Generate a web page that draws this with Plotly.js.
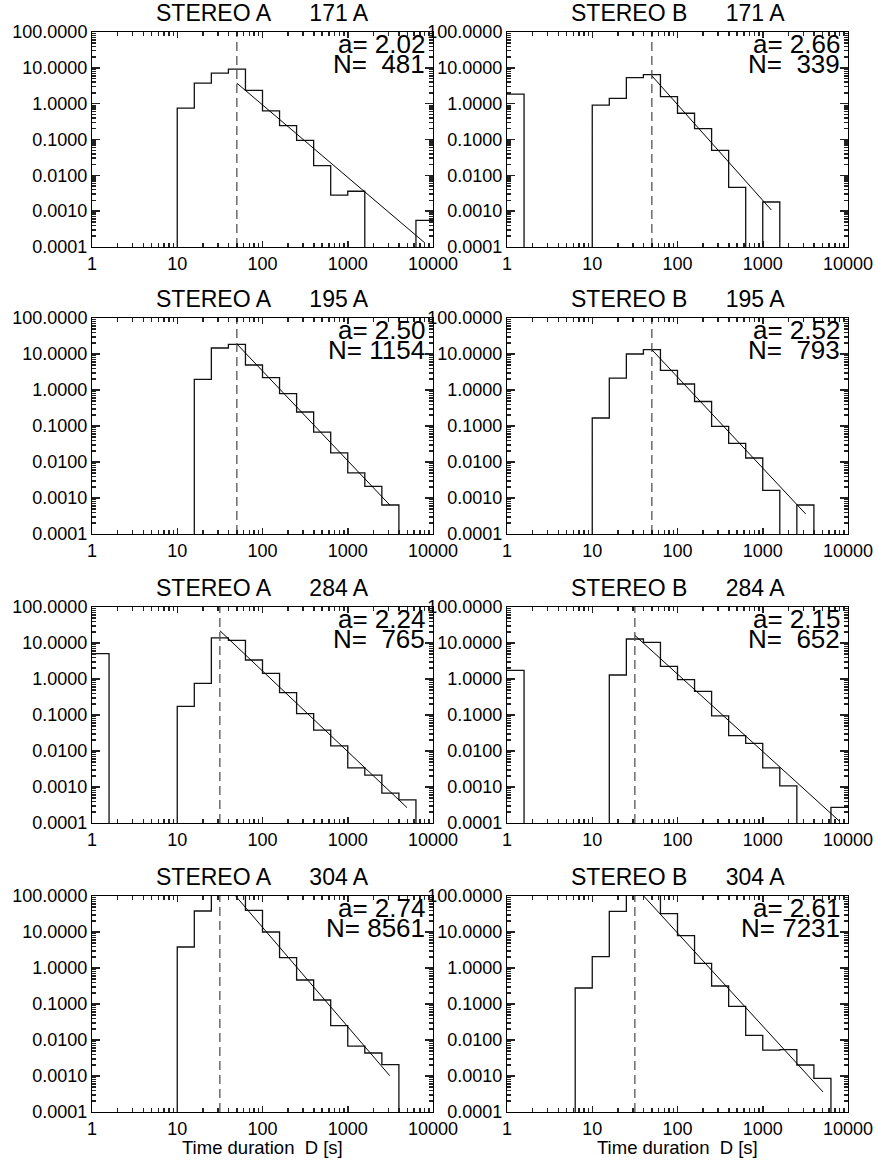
<!DOCTYPE html>
<html>
<head>
<meta charset="utf-8">
<script src="https://cdn.plot.ly/plotly-3.0.1.min.js"></script>
<style>
html,body{margin:0;padding:0;background:#fff;}
#chart{width:878px;height:1164px;}
</style>
</head>
<body>
<div id="chart"></div>
<script>
// ---------- data ----------
const binEdges = [1, 1.585, 2.512, 3.981, 6.31, 10, 15.85, 25.12, 39.81, 63.1, 100,
                  158.5, 251.2, 398.1, 631, 1000, 1585, 2512, 3981, 6310, 10000];

const countsA171 = [0,0,0,0,0, 0.75,3.75,7.1,9.2,2.34,0.63,0.245,0.095,0.0187,0.0028,0.0036,0,0,0,0.00055];
const countsB171 = [1.85,0,0,0,0, 0.91,1.4,5.3,6.5,1.58,0.54,0.2,0.05,0.0046,0,0.0018,0,0,0,0];
const countsA195 = [0,0,0,0,0, 0,1.98,14.7,18.6,4.95,2.2,0.79,0.245,0.068,0.018,0.005,0.0021,0.00064,0,0];
const countsB195 = [0,0,0,0,0, 0.167,2.15,10,13.2,3.5,1.47,0.48,0.098,0.033,0.0129,0.00163,0,0.00064,0,0];
const countsA284 = [5.06,0,0,0,0, 0.174,0.76,13.8,11.9,3.37,1.44,0.417,0.109,0.038,0.0138,0.0034,0.00215,0.00068,0.00044,0];
const countsB284 = [1.74,0,0,0,0, 0,1.29,12.9,10.4,2.25,0.955,0.454,0.095,0.0267,0.0163,0.0034,0.00107,0,0,0.00027];
const countsA304 = [0,0,0,0,0, 3.83,38.3,180,150,40,10,1.94,0.464,0.129,0.025,0.0068,0.00435,0.00206,0,0];
const countsB304 = [0,0,0,0,0.278, 2.07,37.5,160,140,32.3,7.9,1.35,0.316,0.086,0.0135,0.0052,0.0054,0.00202,0.00086,0];

const fitX = [[50, 8020], [50, 1260], [50, 3110], [50, 3190], [31.6, 4960], [31.6, 7980], [31.6, 3110], [31.6, 5090]];
const fitY = [[3.75, 1.3e-4], [6.0, 0.00108], [19, 0.00064], [13.2, 0.00036], [22, 0.000267], [16.3, 0.000111], [325, 0.00102], [185, 0.00036]];
const thresholdD = [50, 50, 50, 50, 31.6, 31.6, 31.6, 31.6];

const slopes = [2.02, 2.66, 2.50, 2.52, 2.24, 2.15, 2.74, 2.61];
const eventCounts = [481, 339, 1154, 793, 765, 652, 8561, 7231];

const spacecraft = ['STEREO A', 'STEREO B'];
const wavelengths = ['171', '195', '284', '304'];

const yTickVals = [0.0001, 0.001, 0.01, 0.1, 1, 10, 100];
const yTickText = ['0.0001', '0.0010', '0.0100', '0.1000', '1.0000', '10.0000', '100.0000'];
const xTickVals = [1, 10, 100, 1000, 10000];
const xTickText = ['1', '10', '100', '1000', '10000'];
const xLabel = 'Time duration  D [s]';

const allCounts = [countsA171, countsB171, countsA195, countsB195, countsA284, countsB284, countsA304, countsB304];

// minor tick positions (2..9 within each decade of the major ticks)
function minorTicks(majors) {
  const out = [];
  for (let k = 0; k < majors.length - 1; k++) {
    for (let m = 2; m <= 9; m++) out.push(majors[k] * m);
  }
  return out;
}
const xMinor = minorTicks(xTickVals);
const yMinor = minorTicks(yTickVals);

// ---------- layout geometry ----------
const W = 878, H = 1164;
const colPx = [[92, 433], [507, 848]];
const rowPx = [[32, 247], [318, 534], [607, 823], [896, 1112]];
const FONT = 'Liberation Sans, Arial, Helvetica, sans-serif';
const FLOOR = 1e-8;
const nb = '\u00A0';
const xRange = [0, 4], yRange = [-4, 2];

const traces = [];
const layout = {
  width: W, height: H,
  margin: {l: 0, r: 0, t: 0, b: 0},
  paper_bgcolor: '#fff', plot_bgcolor: '#fff',
  showlegend: false,
  font: {family: FONT, color: '#000', size: 18},
  annotations: []
};

for (let i = 0; i < 8; i++) {
  const row = Math.floor(i / 2), col = i % 2;
  const sfx = i === 0 ? '' : String(i + 1);
  const minSfx = String(i + 9);
  const xa = 'x' + sfx, ya = 'y' + sfx;
  const counts = allCounts[i];
  const ys = counts.map(v => v > 0 ? v : FLOOR);
  ys.push(ys[ys.length - 1]);

  traces.push({
    x: binEdges, y: ys, xaxis: xa, yaxis: ya,
    type: 'scatter', mode: 'lines', line: {shape: 'hv', color: '#111', width: 1.3},
    hoverinfo: 'skip'
  });
  traces.push({
    x: [thresholdD[i], thresholdD[i]], y: [yTickVals[0], yTickVals[yTickVals.length - 1]],
    xaxis: xa, yaxis: ya, type: 'scatter', mode: 'lines',
    line: {color: '#555', width: 1.3, dash: '9px,5px'}, hoverinfo: 'skip'
  });
  traces.push({
    x: fitX[i], y: fitY[i], xaxis: xa, yaxis: ya, type: 'scatter', mode: 'lines',
    line: {color: '#000', width: 1}, hoverinfo: 'skip'
  });
  traces.push({x: [], y: [], xaxis: 'x' + minSfx, yaxis: 'y' + minSfx, type: 'scatter', mode: 'lines', hoverinfo: 'skip'});

  const xd = [colPx[col][0] / W, colPx[col][1] / W];
  const yd = [1 - rowPx[row][1] / H, 1 - rowPx[row][0] / H];
  const common = {
    showline: true, linecolor: '#000', linewidth: 1,
    ticks: 'inside', mirror: 'ticks', tickcolor: '#222', tickwidth: 1.5,
    showgrid: false, zeroline: false, type: 'log',
    tickfont: {family: FONT, size: 18, color: '#000'},
    tickmode: 'array'
  };
  // main axes: line, major ticks, labels
  layout['xaxis' + sfx] = Object.assign({}, common, {
    domain: xd, anchor: ya, range: xRange,
    tickvals: xTickVals, ticktext: xTickText, ticklen: 6
  });
  layout['yaxis' + sfx] = Object.assign({}, common, {
    domain: yd, anchor: xa, range: yRange,
    tickvals: yTickVals, ticktext: yTickText, ticklen: 8
  });
  // minor tick overlays
  layout['xaxis' + minSfx] = Object.assign({}, common, {
    domain: xd, anchor: ya, overlaying: xa, range: xRange,
    tickvals: xMinor, ticklen: 4, showticklabels: false
  });
  layout['yaxis' + minSfx] = Object.assign({}, common, {
    domain: yd, anchor: xa, overlaying: ya, range: yRange,
    tickvals: yMinor, ticklen: 4, showticklabels: false
  });

  const title = spacecraft[col] + nb.repeat(6) + wavelengths[row] + ' A';
  layout.annotations.push({
    text: title, xref: xa + ' domain', yref: ya + ' domain', x: 0.5, y: 1,
    xanchor: 'center', yanchor: 'middle', yshift: 19, showarrow: false,
    font: {family: FONT, size: 23, color: '#000'}
  });
  layout.annotations.push({
    text: 'a=' + nb + slopes[i].toFixed(2), xref: xa + ' domain', yref: ya + ' domain', x: 1, y: 1,
    xanchor: 'right', yanchor: 'middle', xshift: -6, yshift: -12, showarrow: false,
    font: {family: FONT, size: 26, color: '#000'}
  });
  const nStr = String(eventCounts[i]);
  layout.annotations.push({
    text: 'N=' + nb + nb.repeat(4 - nStr.length) + nStr, xref: xa + ' domain', yref: ya + ' domain', x: 1, y: 1,
    xanchor: 'right', yanchor: 'middle', xshift: -6, yshift: -32, showarrow: false,
    font: {family: FONT, size: 26, color: '#000'}
  });
  if (row === 3) {
    layout.annotations.push({
      text: xLabel, xref: xa + ' domain', yref: ya + ' domain', x: 0.5, y: 0,
      xanchor: 'center', yanchor: 'middle', yshift: -35, showarrow: false,
      font: {family: FONT, size: 18.5, color: '#000'}
    });
  }
}

Plotly.newPlot('chart', traces, layout, {staticPlot: true, displayModeBar: false});
</script>
</body>
</html>
